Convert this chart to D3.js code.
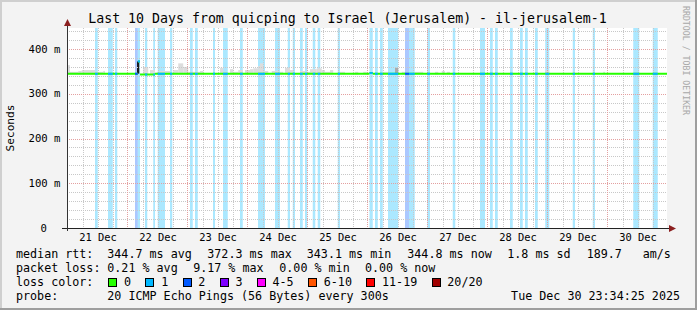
<!DOCTYPE html>
<html>
<head>
<meta charset="utf-8">
<script src="https://cdn.jsdelivr.net/npm/d3@7/dist/d3.min.js"></script>
<style>
    body { margin: 0; background: #f3f3f3; }
    svg text { font-family: 'DejaVu Sans Mono', monospace; }
</style>
</head>
<body>
<div id="chart"></div>
<script>
// time window (UTC), 10 days ending at the probe stamp
const startTime = Date.UTC(2025, 11, 20, 23, 34, 25);
const endTime = Date.UTC(2025, 11, 30, 23, 34, 25);

const dayLabels = ['21 Dec', '22 Dec', '23 Dec', '24 Dec', '25 Dec', '26 Dec', '27 Dec', '28 Dec', '29 Dec', '30 Dec'];
const yTicks = [0, 100, 200, 300, 400];
const yTickLabels = ['0', '100 m', '200 m', '300 m', '400 m'];

// packet loss periods: hours after start, length in hours, lost pings (of 20)
const lossStart = [11.2, 16.4, 19.2, 27.2, 28.3, 31.2, 34.5, 36.3, 41.2, 49.2, 51.2, 58.4, 62.4, 69.2, 76.4, 83.2,
    88.3, 90.3, 93.2, 95.2, 98.3, 100.3, 108.3, 121.0, 123.2, 125.2, 128.4, 135.2, 136.8, 144.1, 154.3, 165.2,
    169.2, 171.2, 177.2, 181.2, 183.2, 187.2, 191.3, 202.3, 210.3, 226.5, 234.3];
const lossHours = [1.1, 1.9, 0.9, 1.1, 0.9, 0.9, 0.7, 2.9, 0.9, 1.1, 1.1, 0.8, 1.9, 1.1, 2.8, 2.0,
    0.9, 0.9, 1.1, 0.9, 1.0, 1.0, 0.9, 1.3, 1.1, 1.1, 4.1, 1.6, 2.3, 1.1, 1.0, 2.0,
    1.1, 1.1, 1.1, 1.1, 1.1, 1.1, 1.6, 0.9, 0.9, 2.4, 2.0];
const lossCount = [1, 1, 1, 2, 1, 1, 1, 1, 1, 1, 1, 1, 1, 1, 1, 1,
    1, 1, 1, 1, 1, 1, 1, 1, 1, 1, 1, 2, 1, 1, 1, 1,
    1, 1, 1, 1, 1, 1, 1, 1, 1, 1, 1];

// smoke: highest ping rtt (ms) over stretches of hours
const smokeStart = [0, 1.2, 4.5, 5.9, 11.2, 14.5, 30.5, 33.2, 35.9, 37.2, 42.5, 44.5, 46.5, 48.5, 53.2, 61.2,
    62.5, 65.2, 66.5, 68.5, 71.2, 73.2, 74.5, 76.5, 77.2, 78.5, 81.9, 84.5, 87.2, 89.2, 93.2, 95.2,
    97.2, 99.9, 101.9, 103.2, 105.2, 109.2, 115.2, 118.5, 126.5, 131.2, 133.9, 139.2, 147.2, 149.9,
    151.9, 191.2, 202.5, 214.5];
const smokeEnd = [1.2, 4.5, 5.9, 11.2, 14.5, 15.2, 32.5, 35.2, 37.2, 41.2, 44.5, 46.5, 48.5, 53.2, 54.5, 62.5,
    63.9, 66.5, 68.5, 70.3, 73.2, 74.5, 76.5, 77.2, 78.5, 80.5, 84.5, 86.5, 89.2, 90.5, 95.2, 97.2,
    99.9, 101.9, 103.2, 105.2, 106.5, 111.2, 116.5, 119.9, 128.5, 132.5, 135.2, 142.5, 148.5, 151.2,
    153.2, 192.9, 203.2, 215.2];
const smokeTop = [364, 349, 351, 353, 349, 351, 360, 353, 349, 351, 353, 368, 360, 349, 351, 358,
    349, 355, 349, 353, 353, 355, 357, 362, 368, 351, 351, 349, 358, 353, 351, 349,
    355, 357, 353, 349, 353, 349, 349, 349, 349, 358, 349, 349, 349, 351,
    349, 352, 349, 349];
const smokeDark = [0, 0, 0, 0, 0, 0, 0, 0, 0, 0, 0, 0, 0, 0, 0, 0,
    0, 0, 0, 0, 0, 0, 0, 0, 0, 0, 0, 0, 0, 0, 0, 0,
    0, 0, 0, 0, 0, 0, 0, 0, 0, 1, 0, 0, 0, 0,
    0, 0, 0, 0];

// the 22 Dec jump: dense smoke under the high median
const spikeStart = 28.0;
const spikeEnd = 28.9;
const spikeLow = 345;
const spikeHigh = 372.3;

// median rtt (ms) over stretches of hours
const medianStart = [0, 28.4, 29.2, 35.2, 121.0, 122.3];
const medianEnd = [28.4, 29.2, 35.2, 121.0, 122.3, 240];
const medianValue = [344.7, 372.3, 343.1, 344.7, 346.3, 344.7];

const lossLabels = ['0', '1', '2', '3', '4-5', '6-10', '11-19', '20/20'];
const lossColors = ['#26ff00', '#00b8ff', '#0059ff', '#7e00ff', '#ff00ff', '#ff5500', '#ff0000', '#a00000'];

const rttStats = ['344.7 ms avg', '372.3 ms max', '343.1 ms min', '344.8 ms now', '1.8 ms sd', '189.7', 'am/s'];
const lossStats = ['0.21 % avg', '9.17 % max', '0.00 % min', '0.00 % now'];

const width = 697;
const height = 310;
const plotLeft = 67;
const plotRight = 667;
const plotTop = 28;
const plotBottom = 228;

const hourMs = 3600 * 1000;
const at = h => new Date(startTime + h * hourMs);

const x = d3.scaleUtc().domain([startTime, endTime]).range([plotLeft, plotRight]);
const y = d3.scaleLinear().domain([0, 447]).range([plotBottom, plotTop]);

const svg = d3.select('#chart')
    .append('svg')
    .attr('width', width)
    .attr('height', height);

// background + 3d border
svg.append('rect').attr('width', width).attr('height', height).attr('fill', '#f3f3f3');
svg.append('path').attr('d', `M1,${height} V1 H${width}`).attr('stroke', '#cfcfcf').attr('stroke-width', 2).attr('fill', 'none');
svg.append('path').attr('d', `M0,${height - 1} H${width - 1} V0`).attr('stroke', '#9e9e9e').attr('stroke-width', 2).attr('fill', 'none');

svg.append('rect')
    .attr('x', plotLeft).attr('y', plotTop)
    .attr('width', plotRight - plotLeft).attr('height', plotBottom - plotTop)
    .attr('fill', '#fff');

function lossColor(n) {
    if (n <= 3) return lossColors[n];
    if (n <= 5) return lossColors[4];
    if (n <= 10) return lossColors[5];
    if (n < 20) return lossColors[6];
    return lossColors[7];
}

// loss background bars
const lossData = lossStart.map((s, i) => ({ s, e: s + lossHours[i], n: lossCount[i] }));
svg.append('g')
    .selectAll('rect')
    .data(lossData)
    .join('rect')
    .attr('x', d => x(at(d.s)))
    .attr('width', d => x(at(d.e)) - x(at(d.s)))
    .attr('y', plotTop)
    .attr('height', plotBottom - plotTop)
    .attr('fill', d => lossColor(d.n))
    .attr('fill-opacity', 0.33);

// smoke
const smokeData = smokeStart.map((s, i) => ({ s, e: smokeEnd[i], v: smokeTop[i], dark: smokeDark[i] }));
svg.append('g')
    .selectAll('rect')
    .data(smokeData)
    .join('rect')
    .attr('x', d => x(at(d.s)))
    .attr('width', d => x(at(d.e)) - x(at(d.s)))
    .attr('y', d => y(d.v))
    .attr('height', d => y(343) - y(d.v))
    .attr('fill', d => d.dark ? '#aaaaaa' : '#dddddd');

svg.append('rect')
    .attr('x', x(at(spikeStart)))
    .attr('width', x(at(spikeEnd)) - x(at(spikeStart)))
    .attr('y', y(spikeHigh))
    .attr('height', y(spikeLow) - y(spikeHigh))
    .attr('fill', '#1c1c1c');

// grid
const grid = svg.append('g').attr('fill', 'none').attr('stroke-dasharray', '1,1');
const minorY = d3.range(20, 447, 20).filter(v => v % 100 !== 0);
grid.selectAll('.hmin')
    .data(minorY)
    .join('line')
    .attr('x1', plotLeft).attr('x2', plotRight)
    .attr('y1', d => Math.round(y(d)) + 0.5).attr('y2', d => Math.round(y(d)) + 0.5)
    .attr('stroke', '#c8c8c8');
const sixHours = d3.utcHour.every(6).range(new Date(startTime), new Date(endTime)).filter(d => d.getUTCHours() !== 0);
grid.selectAll('.vmin')
    .data(sixHours)
    .join('line')
    .attr('x1', d => Math.round(x(d)) + 0.5).attr('x2', d => Math.round(x(d)) + 0.5)
    .attr('y1', plotTop).attr('y2', plotBottom)
    .attr('stroke', '#c8c8c8');
grid.selectAll('.hmaj')
    .data(yTicks.slice(1))
    .join('line')
    .attr('x1', plotLeft).attr('x2', plotRight)
    .attr('y1', d => Math.round(y(d)) + 0.5).attr('y2', d => Math.round(y(d)) + 0.5)
    .attr('stroke', '#e4a0a0');
const days = d3.utcDay.range(new Date(startTime), new Date(endTime));
grid.selectAll('.vmaj')
    .data(days)
    .join('line')
    .attr('x1', d => Math.round(x(d)) - 0.5).attr('x2', d => Math.round(x(d)) - 0.5)
    .attr('y1', plotTop).attr('y2', plotBottom)
    .attr('stroke', '#e4a0a0');

// median rtt, coloured by loss
const medianData = medianStart.map((s, i) => ({ s, e: medianEnd[i], v: medianValue[i] }));
function medianAt(h) {
    const seg = medianData.find(d => h >= d.s && h < d.e);
    return seg ? seg.v : medianValue[0];
}
const medianG = svg.append('g').attr('stroke-width', 2);
medianG.selectAll('.med')
    .data(medianData)
    .join('line')
    .attr('x1', d => x(at(d.s))).attr('x2', d => x(at(d.e)))
    .attr('y1', d => y(d.v)).attr('y2', d => y(d.v))
    .attr('stroke', lossColors[0]);
medianG.selectAll('.lossmed')
    .data(lossData)
    .join('line')
    .attr('x1', d => x(at(d.s))).attr('x2', d => x(at(d.e)))
    .attr('y1', d => y(medianAt((d.s + d.e) / 2)))
    .attr('y2', d => y(medianAt((d.s + d.e) / 2)))
    .attr('stroke', d => lossColor(d.n));

// axes
svg.append('line')
    .attr('x1', plotLeft - 5).attr('x2', plotRight + 4)
    .attr('y1', plotBottom + 0.5).attr('y2', plotBottom + 0.5)
    .attr('stroke', '#222');
svg.append('line')
    .attr('x1', plotLeft + 0.5).attr('x2', plotLeft + 0.5)
    .attr('y1', plotBottom + 3).attr('y2', plotTop - 3)
    .attr('stroke', '#333');
svg.append('path')
    .attr('d', `M${plotLeft - 3},${plotTop - 2} L${plotLeft + 4},${plotTop - 2} L${plotLeft + 0.5},${plotTop - 9} Z`)
    .attr('fill', '#8b1f1f');
svg.append('path')
    .attr('d', `M${plotRight + 2},${plotBottom - 3} L${plotRight + 2},${plotBottom + 4} L${plotRight + 9},${plotBottom + 0.5} Z`)
    .attr('fill', '#8b1f1f');

// y labels
svg.append('g')
    .selectAll('text')
    .data(yTicks)
    .join('text')
    .attr('x', (d, i) => i === 0 ? 47 : 60.5)
    .attr('y', d => y(d) + 3.7)
    .attr('text-anchor', 'end')
    .attr('font-size', 10.6)
    .attr('fill', '#000')
    .text((d, i) => yTickLabels[i]);

// x labels at noon
svg.append('g')
    .selectAll('text')
    .data(days)
    .join('text')
    .attr('x', d => x(new Date(+d + 12 * hourMs)))
    .attr('y', 240.5)
    .attr('text-anchor', 'middle')
    .attr('font-size', 10.4)
    .attr('fill', '#000')
    .text((d, i) => dayLabels[i]);

svg.append('text')
    .attr('transform', 'translate(14,128) rotate(-90)')
    .attr('text-anchor', 'middle')
    .attr('font-size', 11.2)
    .text('Seconds');

svg.append('text')
    .attr('x', 347.5)
    .attr('y', 23.3)
    .attr('text-anchor', 'middle')
    .attr('font-size', 13.25)
    .text('Last 10 Days from quicping to Israel (Jerusalem) - il-jerusalem-1');

svg.append('text')
    .attr('transform', 'translate(683,6) rotate(90)')
    .attr('font-size', 8.6)
    .attr('fill', '#a8a8a8')
    .attr('textLength', 109)
    .attr('lengthAdjust', 'spacingAndGlyphs')
    .text('RRDTOOL / TOBI OETIKER');

// legend
const legend = svg.append('g').attr('font-size', 11.7).attr('fill', '#000');
const rows = [257.5, 271.7, 285.8, 300];
const rttX = [107.3, 207.3, 306.8, 407.3, 507.3, 586.7, 642.7];
const lossX = [107.3, 193.2, 279.3, 365];

legend.append('text').attr('x', 16).attr('y', rows[0]).text('median rtt:');
rttStats.forEach((t, i) => legend.append('text').attr('x', rttX[i]).attr('y', rows[0]).text(t));
legend.append('text').attr('x', 16).attr('y', rows[1]).text('packet loss:');
lossStats.forEach((t, i) => legend.append('text').attr('x', lossX[i]).attr('y', rows[1]).text(t));
legend.append('text').attr('x', 16).attr('y', rows[2]).text('loss color:');

const charW = 7.04;
let cursor = 108.3;
lossLabels.forEach((label, i) => {
    legend.append('rect')
        .attr('x', Math.round(cursor) + 0.5).attr('y', 278.5)
        .attr('width', 8).attr('height', 8)
        .attr('fill', lossColors[i])
        .attr('stroke', '#000');
    legend.append('text').attr('x', cursor + 15.7).attr('y', rows[2]).text(label);
    cursor += 15.7 + label.length * charW + 14.4;
});

legend.append('text').attr('x', 16).attr('y', rows[3]).text('probe:');
legend.append('text').attr('x', 107.3).attr('y', rows[3]).text('20 ICMP Echo Pings (56 Bytes) every 300s');
legend.append('text').attr('x', 680).attr('y', rows[3]).attr('text-anchor', 'end').text('Tue Dec 30 23:34:25 2025');
</script>
</body>
</html>
